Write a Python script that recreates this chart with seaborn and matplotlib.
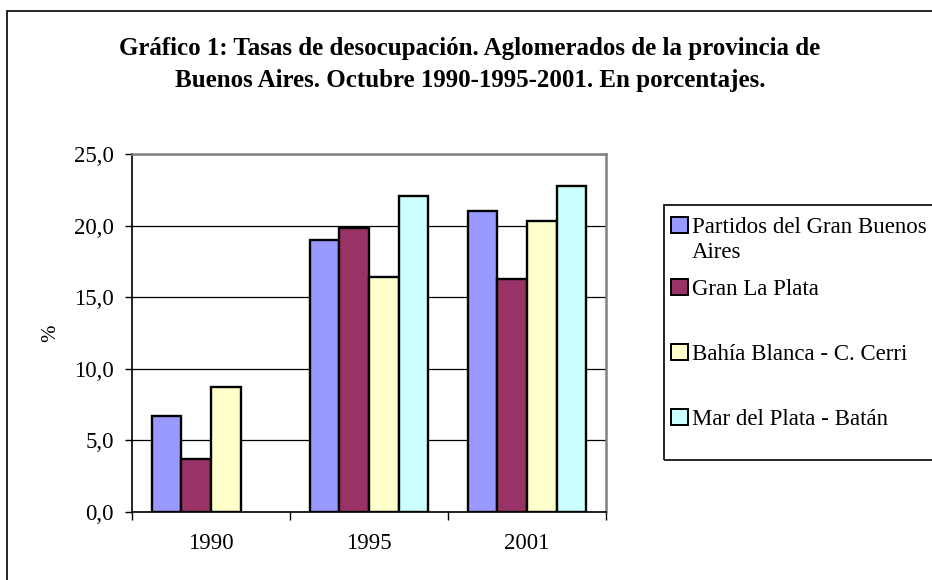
import numpy as np
import pandas as pd
import matplotlib
matplotlib.use("Agg")
import matplotlib.pyplot as plt
from matplotlib.patches import Rectangle
import seaborn as sns

years = ["1990", "1995", "2001"]
series = ["Partidos del Gran Buenos Aires", "Gran La Plata",
          "Bahía Blanca - C. Cerri", "Mar del Plata - Batán"]
partidos = [6.7, 19.0, 21.0]
la_plata = [3.7, 19.8, 16.3]
bahia = [8.7, 16.4, 20.3]
mar_del_plata = [np.nan, 22.1, 22.8]
colors = ["#9999FF", "#993366", "#FFFFCC", "#CCFFFF"]
legend_labels = ["Partidos del Gran Buenos\nAires", "Gran La Plata",
                 "Bahía Blanca - C. Cerri", "Mar del Plata - Batán"]
yticks = [0, 5, 10, 15, 20, 25]

rows = []
for s, vals in zip(series, [partidos, la_plata, bahia, mar_del_plata]):
    for y, v in zip(years, vals):
        rows.append({"year": y, "serie": s, "value": v})
df = pd.DataFrame(rows)

sns.set_theme(style="white")
plt.rcParams["font.family"] = ["Liberation Serif", "DejaVu Serif"]
plt.rcParams["text.color"] = "black"
plt.rcParams["axes.labelcolor"] = "black"
plt.rcParams["xtick.labelcolor"] = "black"
plt.rcParams["ytick.labelcolor"] = "black"

W, H = 932, 580
fig = plt.figure(figsize=(W / 100, H / 100), dpi=100)
fig.patch.set_facecolor("white")

def fx(px):
    return px / W

def fy(py):
    return 1 - py / H

ax = fig.add_axes([fx(132), fy(512), fx(606) - fx(132), fy(154) - fy(512)])
sns.barplot(data=df, x="year", y="value", hue="serie", order=years,
            hue_order=series, palette=colors, width=0.75, gap=0,
            edgecolor="black", linewidth=1.7, saturation=1, ax=ax,
            legend=False, err_kws={"linewidth": 0})

ax.set_xlim(-0.5, 2.5)
ax.set_ylim(0, 25)
ax.set_yticks(yticks)
ax.set_yticklabels([f"{v:.1f}".replace(".", ",") for v in yticks])
ax.yaxis.grid(True, color="black", linewidth=0.9)
ax.set_axisbelow(True)
ax.set_xlabel("")
ax.set_ylabel("%", fontsize=15, labelpad=10, color="black")

for side in ["left", "bottom"]:
    ax.spines[side].set_color("black")
    ax.spines[side].set_linewidth(1.2)
for side in ["top", "right"]:
    ax.spines[side].set_color("#808080")
    ax.spines[side].set_linewidth(1.8)

ax.tick_params(axis="y", which="major", left=True, length=5, width=1,
               color="black", labelcolor="black", pad=8, labelsize=16.5)
ax.set_xticks([0, 1, 2])
ax.set_xticks([-0.5, 0.5, 1.5, 2.5], minor=True)
ax.tick_params(axis="x", which="major", bottom=False, length=0, pad=15,
               labelcolor="black", labelsize=16.5)
ax.tick_params(axis="x", which="minor", bottom=True, length=6, width=1,
               color="black")

# title
fig.text(fx(470), fy(48), "Gráfico 1: Tasas de desocupación. Aglomerados de la provincia de",
         ha="center", va="center", fontsize=18, fontweight="bold", color="black")
fig.text(fx(470), fy(81), "Buenos Aires. Octubre 1990-1995-2001. En porcentajes.",
         ha="center", va="center", fontsize=18, fontweight="bold", color="black")

# outer chart frame (extends beyond the image at right/bottom)
fig.patches.append(Rectangle((fx(7), fy(H + 20)), 2, fy(11) - fy(H + 20),
                             transform=fig.transFigure, fill=False,
                             edgecolor="black", linewidth=1.2))

# legend box
fig.patches.append(Rectangle((fx(664), fy(460)), fx(960) - fx(664), fy(205) - fy(460),
                             transform=fig.transFigure, fill=False,
                             edgecolor="black", linewidth=1.2, clip_on=False))
baselines = [233, 295, 360, 425]
for lab, col, base in zip(legend_labels, colors, baselines):
    fig.patches.append(Rectangle((fx(671), fy(base)), fx(688) - fx(671), fy(base - 16) - fy(base),
                                 transform=fig.transFigure, facecolor=col,
                                 edgecolor="black", linewidth=1.4))
    for i, ln in enumerate(lab.split("\n")):
        fig.text(fx(692), fy(base + i * 25), ln, ha="left", va="baseline",
                 fontsize=16.5, color="black")

fig.savefig("out.png", dpi=100, facecolor="white")
